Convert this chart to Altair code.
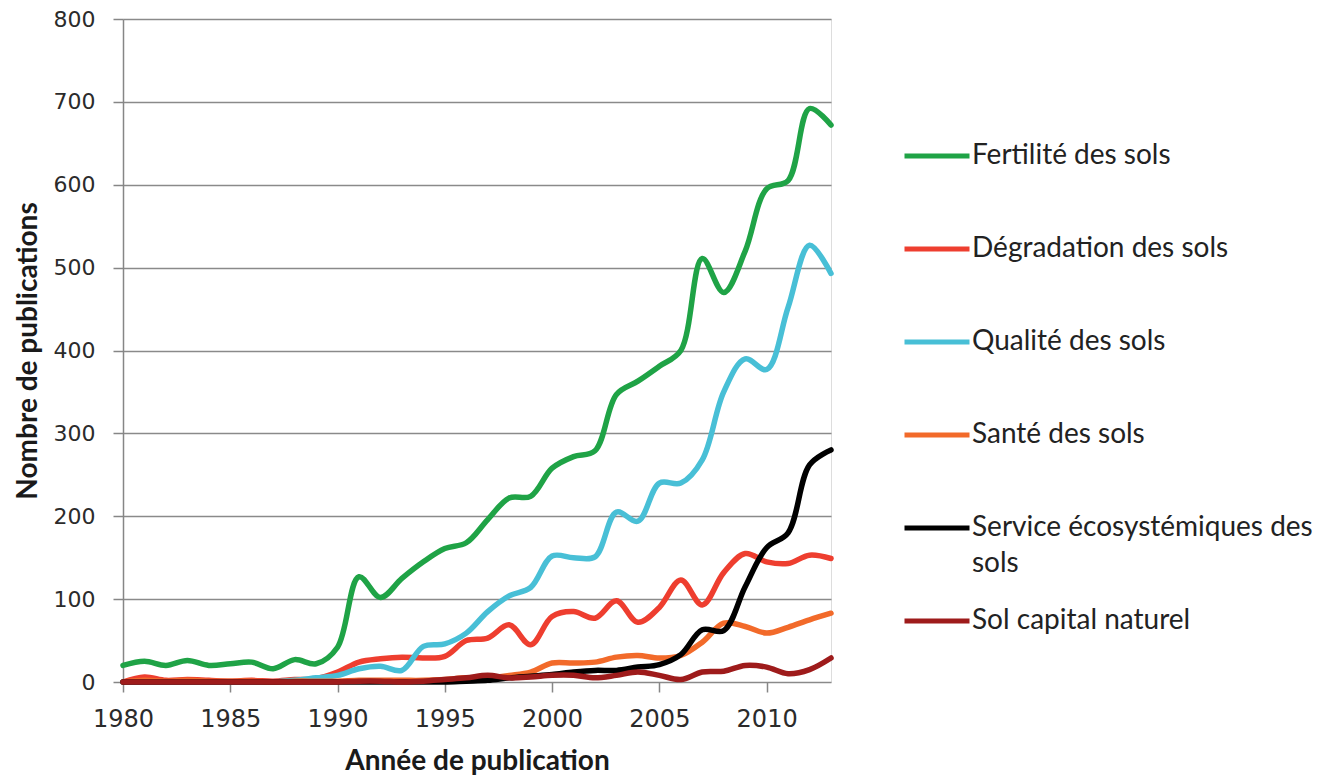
import altair as alt
import pandas as pd

years = list(range(1980, 2014))

series_names = [
    "Fertilité des sols",
    "Dégradation des sols",
    "Qualité des sols",
    "Santé des sols",
    "Service écosystémiques des sols",
    "Sol capital naturel",
]
series_colors = ["#1fa346", "#ee3e2f", "#48bfd6", "#f26a2a", "#000000", "#9e1b1b"]

fertilite = [20, 25, 20, 26, 20, 22, 24, 16, 27, 22,
             42, 127, 102, 125, 145, 161, 168, 196, 222, 224,
             258, 272, 279, 347, 363, 381, 400, 511, 470, 520,
             595, 605, 692, 672]
degradation = [0, 6, 2, 3, 2, 1, 2, 1, 3, 4,
               12, 24, 28, 30, 29, 31, 50, 53, 69, 45,
               79, 85, 77, 98, 72, 90, 123, 93, 132, 155,
               145, 143, 153, 149]
qualite = [0, 0, 0, 0, 0, 0, 0, 0, 2, 5,
           8, 16, 19, 14, 43, 46, 59, 85, 104, 114,
           152, 150, 151, 205, 194, 240, 240, 268, 350, 390,
           377, 452, 527, 493]
sante = [0, 2, 1, 2, 1, 1, 1, 0, 1, 1,
         1, 2, 2, 2, 2, 3, 5, 5, 8, 12,
         23, 23, 24, 30, 32, 29, 32, 48, 71, 67,
         59, 66, 75, 83]
service = [0, 0, 0, 0, 0, 0, 0, 0, 0, 0,
           0, 0, 0, 0, 0, 0, 1, 2, 5, 7,
           9, 12, 14, 14, 18, 21, 33, 63, 62, 115,
           162, 180, 262, 280]
sol_capital = [0, 0, 0, 0, 0, 0, 0, 0, 0, 0,
               0, 1, 1, 0, 1, 3, 5, 8, 5, 6,
               8, 8, 5, 8, 12, 8, 3, 12, 13, 20,
               18, 10, 15, 29]

y_ticks = [0, 100, 200, 300, 400, 500, 600, 700, 800]
x_ticks = [1980, 1985, 1990, 1995, 2000, 2005, 2010]

all_series = [fertilite, degradation, qualite, sante, service, sol_capital]
rows = []
for order, (name, vals) in enumerate(zip(series_names, all_series)):
    for yr, v in zip(years, vals):
        rows.append({"annee": yr, "valeur": v, "serie": name, "ordre": order})
df = pd.DataFrame(rows)

label_expr = ("datum.label == 'Service écosystémiques des sols' ? "
              "['Service écosystémiques des', 'sols'] : datum.label")

chart = alt.Chart(df).mark_line(
    interpolate="catmull-rom", strokeWidth=5.5, strokeCap="round"
).encode(
    x=alt.X("annee:Q",
            scale=alt.Scale(domain=[1980, 2013], nice=False, zero=False),
            axis=alt.Axis(values=x_ticks, format="d", grid=False, labelFlush=False,
                          title="Année de publication",
                          titleFont="Lato", titleFontSize=28, titleFontWeight="bold",
                          titleColor="#1a1a1a", titleY=79, titleBaseline="middle",
                          labelFont="DejaVu Sans", labelFontSize=24, labelColor="#2b2b2b",
                          labelPadding=15, tickSize=10, tickColor="#868686", tickWidth=1.5,
                          domain=False)),
    y=alt.Y("valeur:Q",
            scale=alt.Scale(domain=[0, 800], nice=False),
            axis=alt.Axis(values=y_ticks, grid=True, gridColor="#8a8a8a", gridWidth=1.5,
                          labelFlush=False,
                          title="Nombre de publications",
                          titleFont="Lato", titleFontSize=28, titleFontWeight="bold",
                          titleColor="#1a1a1a", titleX=-95, titleBaseline="middle",
                          labelFont="DejaVu Sans", labelFontSize=22, labelColor="#2b2b2b",
                          labelPadding=18, tickSize=10, tickColor="#868686", tickWidth=1.5,
                          domainColor="#868686", domainWidth=1.5)),
    color=alt.Color("serie:N",
                    scale=alt.Scale(domain=series_names, range=series_colors),
                    sort=series_names,
                    legend=alt.Legend(
                        title=None, orient="none", legendX=779, legendY=102,
                        symbolType="stroke", symbolSize=4225, symbolStrokeWidth=5,
                        labelFont="Lato", labelFontSize=28, labelColor="#222222",
                        labelOffset=0, labelLimit=420, rowPadding=8, padding=0,
                        gridAlign="all", labelExpr=label_expr)),
    order=alt.Order("ordre:Q"),
).properties(
    width=708, height=663,
    autosize=alt.AutoSizeParams(type="none"),
    padding={"left": 115, "top": 11, "right": 489, "bottom": 93},
).configure_view(stroke=None).configure(
    background="white",
    style={"guide-label": {"lineHeight": 36}},
)

chart.save("out.html", embed_options={"renderer": "svg", "actions": False})
